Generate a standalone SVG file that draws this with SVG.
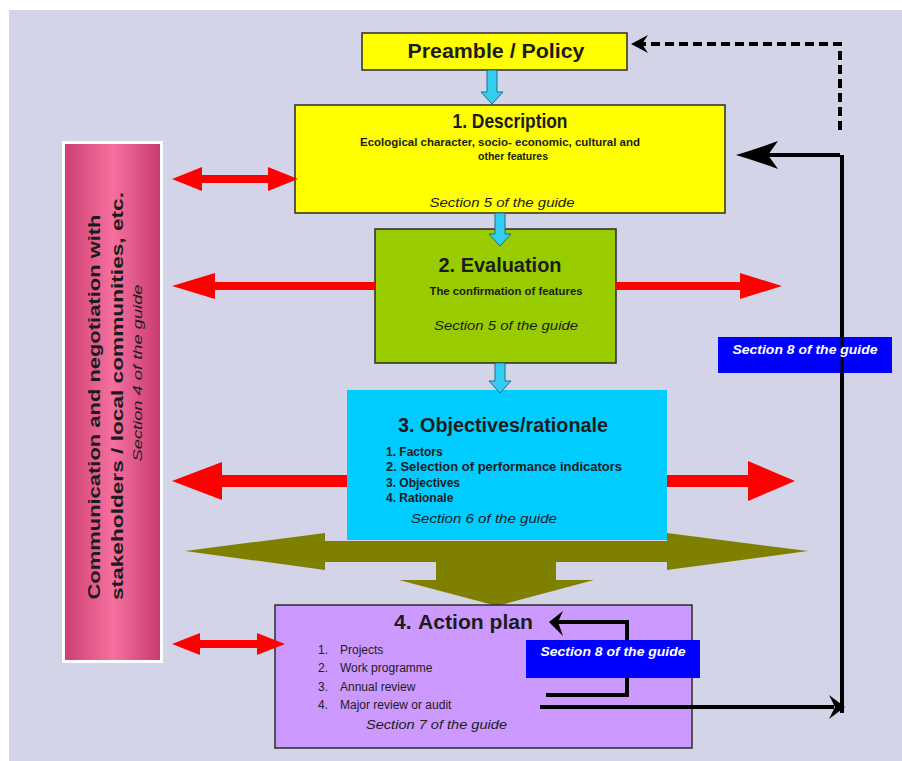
<svg xmlns="http://www.w3.org/2000/svg" width="902" height="761" viewBox="0 0 902 761">
<defs>
<linearGradient id="pinkGrad" x1="0" y1="0" x2="1" y2="0">
<stop offset="0" stop-color="#cc3f72"/>
<stop offset="0.5" stop-color="#f5709f"/>
<stop offset="1" stop-color="#c93c70"/>
</linearGradient>
<style>
.box{stroke:#2b2b2b;stroke-width:1.5}
.t{font-family:"Liberation Sans",Arial,sans-serif;fill:#1c1c1c}
.title{font-weight:bold;font-size:21px}
.sub{font-weight:bold;font-size:10.5px}
.lst{font-weight:bold;font-size:12px}
.sec{font-style:italic;font-size:13px}
.li{font-size:12px}
.red{fill:#ff0000}
.cy{fill:#33ccf2;stroke:#1f6f80;stroke-width:1}
.blk{fill:none;stroke:#000;stroke-width:4}
.ah{fill:#000}
.lbl{font-family:"Liberation Sans",Arial,sans-serif;font-style:italic;font-weight:bold;font-size:13px;fill:#fff}
</style>
</defs>
<rect x="0" y="0" width="902" height="761" fill="#ffffff"/>
<rect x="9" y="10" width="893" height="751" fill="#d4d4e8"/>

<g id="olive-arrow">
<polygon fill="#808000" points="185,551 325,533 325,541 667,541 667,533 808,551 667,570 667,562 556,562 556,580 594,580 497,606 399,580 436,580 436,562 325,562 325,570"/>
</g>

<g id="stakeholders">
<rect x="62" y="141" width="101" height="522" fill="#ffffff"/>
<rect x="65" y="144" width="95" height="516" fill="url(#pinkGrad)"/>
<text class="t" font-weight="bold" font-size="17" transform="translate(100,407) rotate(-90)" text-anchor="middle" textLength="385" lengthAdjust="spacingAndGlyphs" fill="#2a1020">Communication and negotiation with</text>
<text class="t" font-weight="bold" font-size="17" transform="translate(123,396) rotate(-90)" text-anchor="middle" textLength="408" lengthAdjust="spacingAndGlyphs" fill="#2a1020">stakeholders / local communities, etc.</text>
<text class="t" font-style="italic" font-size="13" transform="translate(142,373) rotate(-90)" text-anchor="middle" textLength="177" lengthAdjust="spacingAndGlyphs" fill="#2a1020">Section 4 of the guide</text>
</g>

<g id="preamble">
<rect class="box" x="362" y="33" width="265" height="37" fill="#ffff00"/>
<text class="t" font-weight="bold" font-size="21" x="496" y="58" text-anchor="middle" textLength="177" lengthAdjust="spacingAndGlyphs">Preamble / Policy</text>
</g>

<g id="description">
<rect class="box" x="295" y="105" width="430" height="108" fill="#ffff00"/>
<text class="t title" x="510" y="128" text-anchor="middle" textLength="115" lengthAdjust="spacingAndGlyphs">1. Description</text>
<text class="t sub" x="500" y="146" text-anchor="middle" textLength="280" lengthAdjust="spacingAndGlyphs">Ecological character, socio- economic, cultural and</text>
<text class="t sub" x="513" y="160" text-anchor="middle">other features</text>
<text class="t sec" x="502" y="207" text-anchor="middle" textLength="145" lengthAdjust="spacingAndGlyphs">Section 5 of the guide</text>
</g>

<g id="evaluation">
<rect class="box" x="375" y="229" width="241" height="134" fill="#99cc00" stroke="#88aa22"/>
<text class="t title" x="500" y="272" text-anchor="middle" textLength="123" lengthAdjust="spacingAndGlyphs">2. Evaluation</text>
<text class="t sub" x="506" y="295" text-anchor="middle" textLength="153" lengthAdjust="spacingAndGlyphs">The confirmation of features</text>
<text class="t sec" x="506" y="330" text-anchor="middle" textLength="144" lengthAdjust="spacingAndGlyphs">Section 5 of the guide</text>
</g>

<g id="objectives">
<rect x="347" y="390" width="320" height="150" fill="#00ccff"/>
<text class="t title" x="503" y="432" text-anchor="middle" textLength="210" lengthAdjust="spacingAndGlyphs">3. Objectives/rationale</text>
<text class="t lst" x="386" y="456">1. Factors</text>
<text class="t lst" x="386" y="471" textLength="236" lengthAdjust="spacingAndGlyphs">2. Selection of performance indicators</text>
<text class="t lst" x="386" y="487">3. Objectives</text>
<text class="t lst" x="386" y="502">4. Rationale</text>
<text class="t sec" x="411" y="523" textLength="146" lengthAdjust="spacingAndGlyphs">Section 6 of the guide</text>
</g>

<g id="action-plan">
<rect class="box" x="275" y="605" width="417" height="143" fill="#cc99ff"/>
<text class="t title" x="394" y="629">4.</text>
<text class="t title" x="418" y="629" textLength="115" lengthAdjust="spacingAndGlyphs">Action plan</text>
<text class="t li" x="318" y="654">1.</text>
<text class="t li" x="340" y="654">Projects</text>
<text class="t li" x="318" y="672">2.</text>
<text class="t li" x="340" y="672">Work programme</text>
<text class="t li" x="318" y="691">3.</text>
<text class="t li" x="340" y="691">Annual review</text>
<text class="t li" x="318" y="709">4.</text>
<text class="t li" x="340" y="709">Major review or audit</text>
<text class="t sec" x="366" y="729" textLength="141" lengthAdjust="spacingAndGlyphs">Section 7 of the guide</text>
</g>

<g id="connectors">
<!-- cyan down arrows -->
<polygon class="cy" points="487,70 497,70 497,92 503,92 492,104 481,92 487,92"/>
<polygon class="cy" points="495,213 505,213 505,234 511,234 500,246 489,234 495,234"/>
<polygon class="cy" points="495,363 505,363 505,381 511,381 500,393 489,381 495,381"/>
<!-- red arrows -->
<polygon class="red" points="172,179 202,167 202,175 268,175 268,167 298,179 268,191 268,183 202,183 202,191"/>
<polygon class="red" points="172,286 215,273 215,282 375,282 375,290 215,290 215,299"/>
<polygon class="red" points="616,282 740,282 740,273 782,286 740,299 740,290 616,290"/>
<polygon class="red" points="172,481 222,462 222,475 347,475 347,487 222,487 222,500"/>
<polygon class="red" points="667,475 748,475 748,461 795,481 748,501 748,487 667,487"/>
<polygon class="red" points="172,644 200,633 200,640 257,640 257,633 285,644 257,655 257,648 200,648 200,655"/>
<!-- dashed feedback to preamble -->
<path class="blk" d="M840,130 L840,44 L641,44" stroke-dasharray="9,5"/>
<path class="ah" d="M631,44 L648,35 L642,44 L648,53 Z"/>
<!-- main feedback loop -->
<path class="blk" d="M842,155 L842,713"/>
<path class="blk" d="M840,155 L766,155"/>
<path class="ah" d="M736,155 Q756,149 778,141 L768,155 L778,169 Q756,161 736,155 Z"/>
<path class="blk" d="M540,707 L834,707"/>
<path class="ah" d="M845,707 L829,695 L835,707 L829,719 Z"/>
<!-- inner loop -->
<path class="blk" d="M546,695 L627,695 L627,622 L556,622"/>
<path class="ah" d="M549,622 L563,611 L558,622 L563,636 Z"/>
</g>

<g id="section8-right">
<rect x="718" y="337" width="174" height="36" fill="#0000ff"/>
<path d="M842,337 L842,373" stroke="#000" stroke-width="3"/>
<text class="lbl" x="805" y="354" text-anchor="middle" textLength="145" lengthAdjust="spacingAndGlyphs">Section 8 of the guide</text>
</g>

<g id="section8-action">
<rect x="526" y="640" width="174" height="38" fill="#0000ff"/>
<text class="lbl" x="613" y="656" text-anchor="middle" textLength="145" lengthAdjust="spacingAndGlyphs">Section 8 of the guide</text>
</g>
</svg>
